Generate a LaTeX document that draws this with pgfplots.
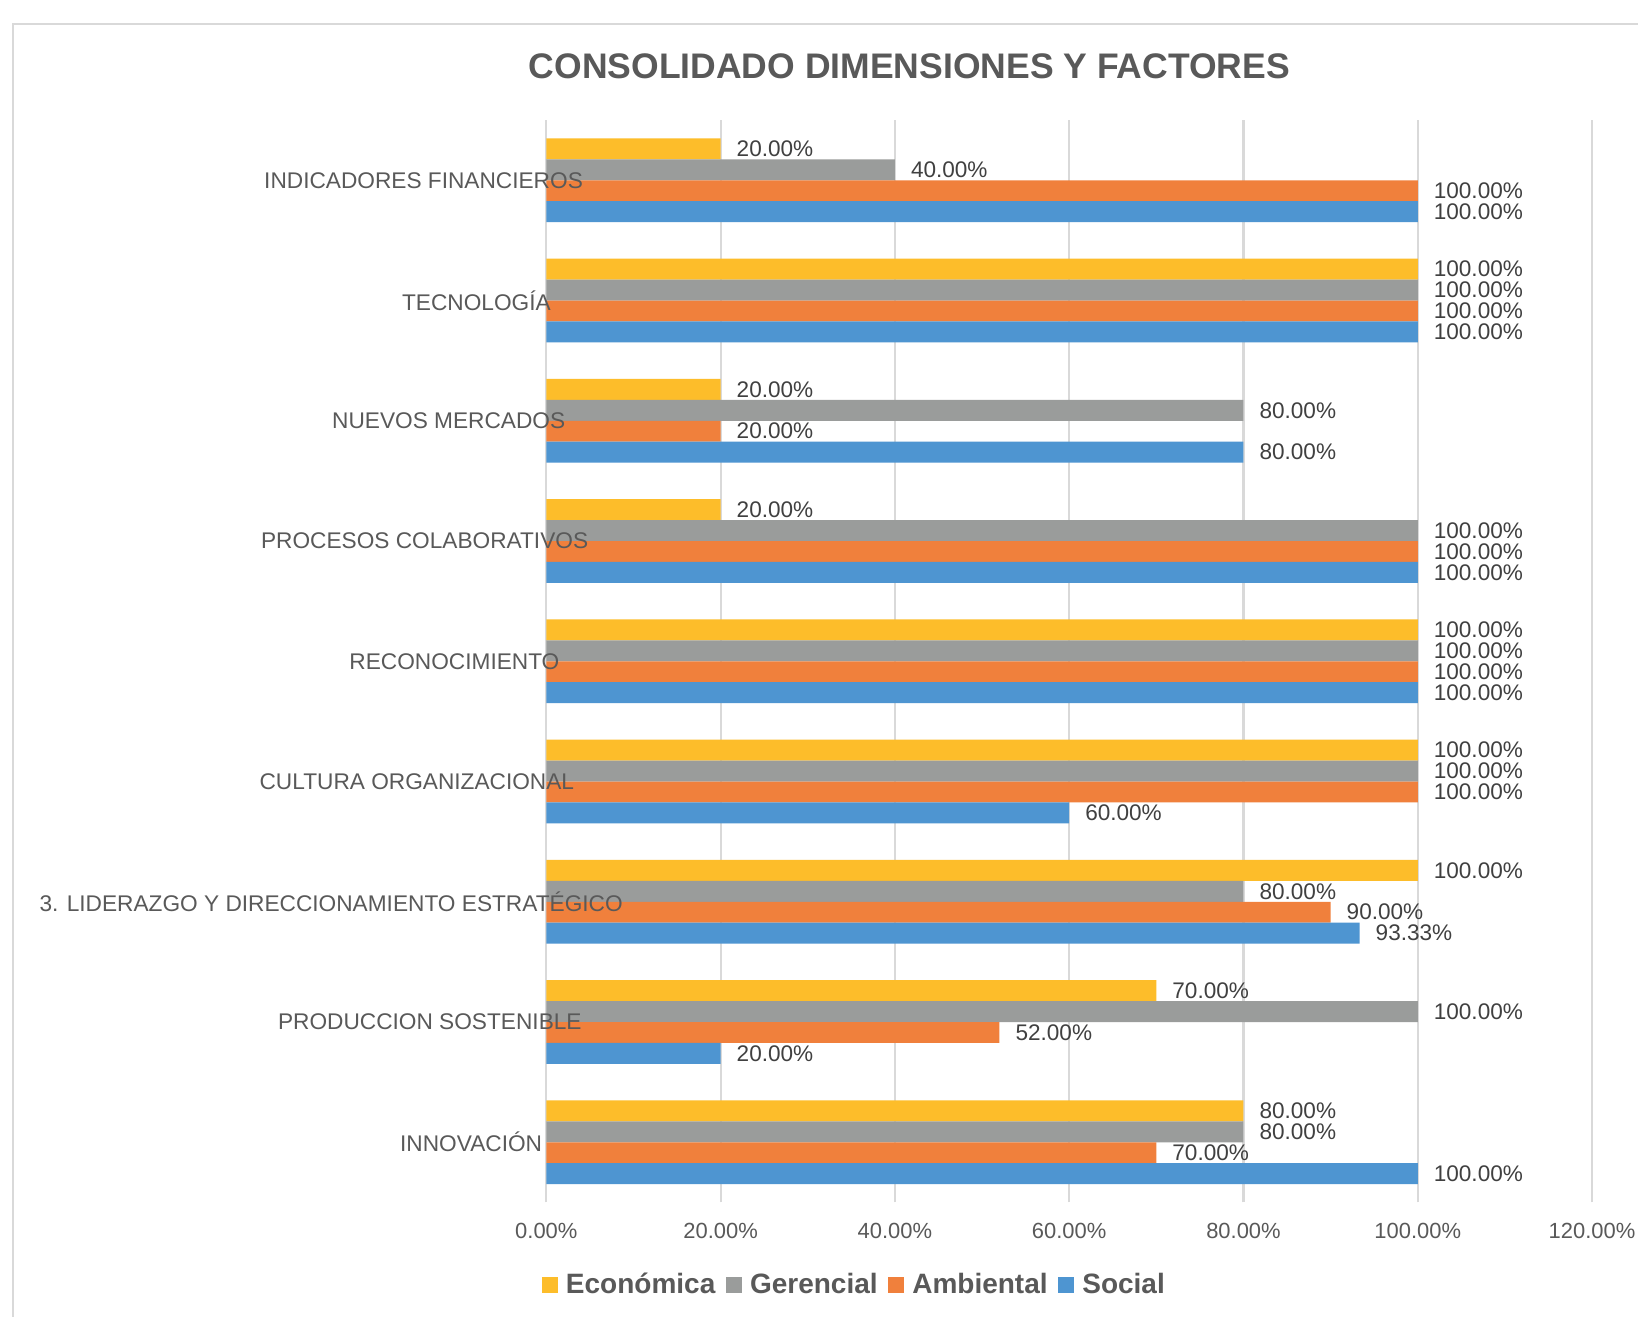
\documentclass[border=0pt]{standalone}
\usepackage{fontspec}
\setmainfont{Liberation Sans}
\usepackage{pgfplots}
\pgfplotsset{compat=1.18}
\definecolor{cEco}{HTML}{FDBD2A}
\definecolor{cGer}{HTML}{9A9C9B}
\definecolor{cAmb}{HTML}{F0803C}
\definecolor{cSoc}{HTML}{4E95D1}
\definecolor{cGrid}{HTML}{D9D9D9}
\definecolor{cFrame}{HTML}{D9D9D9}
\definecolor{cTitle}{HTML}{595959}
\definecolor{cTick}{HTML}{595959}
\definecolor{cData}{HTML}{404040}
\begin{document}
\begin{tikzpicture}
\useasboundingbox (0pt,0pt) rectangle (784pt,630pt);
\fill[white] (0pt,0pt) rectangle (784pt,630pt);
\draw[line width=1pt, color=cFrame] (6.25pt,-2pt) -- (6.25pt,618.5pt) -- (790pt,618.5pt);
\node[font=\fontsize{17}{20}\selectfont\bfseries, text=cTitle] at (435.25pt,598.5pt) {CONSOLIDADO DIMENSIONES Y FACTORES};
\begin{axis}[
  at={(261.5pt,54.5pt)}, anchor=south west,
  scale only axis, width=500.5pt, height=518pt,
  xmin=0, xmax=120, ymin=0.5, ymax=9.5,
  xbar, bar width=10pt,
  xtick={0,20,...,120}, ytick=\empty,
  xmajorgrids, grid style={color=cGrid, line width=1pt},
  axis line style={draw=none}, major tick length=0pt,
  /pgf/number format/assume math mode=true,
  xticklabel={\pgfmathprintnumber[fixed,fixed zerofill,precision=2]{\tick}\%},
  xticklabel style={font=\fontsize{10.5}{12}\selectfont, text=cTick, anchor=center, yshift=-13.5pt},
  clip=false,
  point meta=x,
  nodes near coords={\pgfmathprintnumber[fixed,fixed zerofill,precision=2]{\pgfplotspointmeta}\%},
  every node near coord/.append style={font=\fontsize{10.8}{12}\selectfont, text=cData, anchor=west, inner sep=0pt, xshift=7.5pt},
  legend columns=4,
  legend style={at={(-0.0044,-0.0763)}, anchor=west, draw=none, fill=none,
    inner sep=0pt, outer sep=0pt, nodes={inner sep=0pt},
    font=\fontsize{13.4}{15}\selectfont\bfseries, text=cTitle,
    /tikz/every odd column/.append style={column sep=4pt},
    /tikz/every even column/.append style={column sep=5pt}},
  legend image code/.code={\fill[#1] (0pt,-3.8pt) rectangle (7.6pt,3.8pt);},
]
\addplot[fill=cEco, draw=none, bar shift=15pt] coordinates {(20,9) (100,8) (20,7) (20,6) (100,5) (100,4) (100,3) (70,2) (80,1)};
\addlegendentry{Económica}
\addplot[fill=cGer, draw=none, bar shift=5pt] coordinates {(40,9) (100,8) (80,7) (100,6) (100,5) (100,4) (80,3) (100,2) (80,1)};
\addlegendentry{Gerencial}
\addplot[fill=cAmb, draw=none, bar shift=-5pt] coordinates {(100,9) (100,8) (20,7) (100,6) (100,5) (100,4) (90,3) (52,2) (70,1)};
\addlegendentry{Ambiental}
\addplot[fill=cSoc, draw=none, bar shift=-15pt] coordinates {(100,9) (100,8) (80,7) (100,6) (100,5) (60,4) (93.33,3) (20,2) (100,1)};
\addlegendentry{Social}
\begin{scope}[every node/.style={font=\fontsize{10.85}{13}\selectfont, text=cTick, anchor=center}]
\node at (axis cs:-14.09,9) {INDICADORES FINANCIEROS};
\node at (axis cs:-8.03,8) {TECNOLOGÍA};
\node at (axis cs:-11.21,7) {NUEVOS MERCADOS};
\node at (axis cs:-13.97,6) {PROCESOS COLABORATIVOS};
\node at (axis cs:-10.55,5) {RECONOCIMIENTO};
\node at (axis cs:-14.86,4) {CULTURA ORGANIZACIONAL};
\node at (axis cs:-24.70,3) {3. LIDERAZGO Y DIRECCIONAMIENTO ESTRATÉGICO};
\node at (axis cs:-13.37,2) {PRODUCCION SOSTENIBLE};
\node at (axis cs:-8.63,1) {INNOVACIÓN};
\end{scope}
\end{axis}
\end{tikzpicture}
\end{document}
